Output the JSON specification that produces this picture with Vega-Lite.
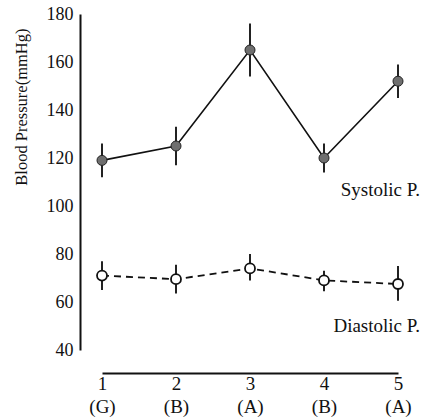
{
  "$schema": "https://vega.github.io/schema/vega-lite/v6.json",
  "autosize": "none",
  "width": 296,
  "height": 336,
  "padding": {"left": 102, "top": 14, "right": 25, "bottom": 68},
  "background": "white",
  "config": {
    "view": {"stroke": null},
    "font": "Liberation Serif",
    "axis": {"grid": false, "ticks": false, "domainColor": "#111", "domainWidth": 2, "labelColor": "#111", "titleColor": "#111", "labelFont": "Liberation Serif", "titleFont": "Liberation Serif"}
  },
  "data": {
    "values": [
      {"visit": "1 (G)", "series": "Systolic", "mean": 119, "lo": 112, "hi": 126},
      {"visit": "2 (B)", "series": "Systolic", "mean": 125, "lo": 117, "hi": 133},
      {"visit": "3 (A)", "series": "Systolic", "mean": 165, "lo": 154, "hi": 176},
      {"visit": "4 (B)", "series": "Systolic", "mean": 120, "lo": 114, "hi": 126},
      {"visit": "5 (A)", "series": "Systolic", "mean": 152, "lo": 145, "hi": 159},
      {"visit": "1 (G)", "series": "Diastolic", "mean": 71, "lo": 65, "hi": 77},
      {"visit": "2 (B)", "series": "Diastolic", "mean": 69.5, "lo": 63.5, "hi": 75.5},
      {"visit": "3 (A)", "series": "Diastolic", "mean": 74, "lo": 69, "hi": 80},
      {"visit": "4 (B)", "series": "Diastolic", "mean": 69, "lo": 64.5, "hi": 73},
      {"visit": "5 (A)", "series": "Diastolic", "mean": 67.5, "lo": 60.5, "hi": 75}
    ]
  },
  "encoding": {
    "x": {
      "field": "visit", "type": "ordinal",
      "scale": {"type": "point", "padding": 0},
      "axis": {"title": null, "labelAngle": 0, "offset": 23, "labelPadding": 1, "labelFontSize": 19, "labelLineHeight": 23, "labelExpr": "split(datum.label, ' ')"}
    }
  },
  "layer": [
    {
      "transform": [{"filter": "datum.series === 'Systolic'"}],
      "mark": {"type": "line", "color": "#111", "strokeWidth": 1.6},
      "encoding": {
        "y": {
          "field": "mean", "type": "quantitative",
          "scale": {"domain": [40, 180], "nice": false, "zero": false},
          "axis": {"values": [40, 60, 80, 100, 120, 140, 160, 180], "offset": 22, "labelPadding": 7, "labelFontSize": 18, "title": "Blood Pressure(mmHg)", "titleFontSize": 16.5, "titleFontWeight": "normal", "titleY": 14, "titleAlign": "right", "titlePadding": 17}
        }
      }
    },
    {
      "transform": [{"filter": "datum.series === 'Diastolic'"}],
      "mark": {"type": "line", "color": "#111", "strokeWidth": 1.8, "strokeDash": [7, 5]},
      "encoding": {"y": {"field": "mean", "type": "quantitative"}}
    },
    {
      "mark": {"type": "rule", "color": "#222", "strokeWidth": 2},
      "encoding": {"y": {"field": "lo", "type": "quantitative"}, "y2": {"field": "hi"}}
    },
    {
      "transform": [{"filter": "datum.series === 'Systolic'"}],
      "mark": {"type": "point", "shape": "circle", "filled": true, "fill": "#6f6f6f", "stroke": "#222", "strokeWidth": 1, "size": 100, "opacity": 1},
      "encoding": {"y": {"field": "mean", "type": "quantitative"}}
    },
    {
      "transform": [{"filter": "datum.series === 'Diastolic'"}],
      "mark": {"type": "point", "shape": "circle", "filled": true, "fill": "white", "stroke": "#111", "strokeWidth": 1.8, "size": 100, "opacity": 1},
      "encoding": {"y": {"field": "mean", "type": "quantitative"}}
    },
    {
      "data": {"values": [{"label": "Systolic P.", "visit": "5 (A)", "pos": 104}, {"label": "Diastolic P.", "visit": "5 (A)", "pos": 47.5}]},
      "mark": {"type": "text", "align": "right", "baseline": "alphabetic", "dx": 22, "fontSize": 19, "fontWeight": "normal", "fill": "#111"},
      "encoding": {"x": {"field": "visit", "type": "ordinal"}, "y": {"field": "pos", "type": "quantitative"}, "text": {"field": "label"}}
    }
  ]
}
